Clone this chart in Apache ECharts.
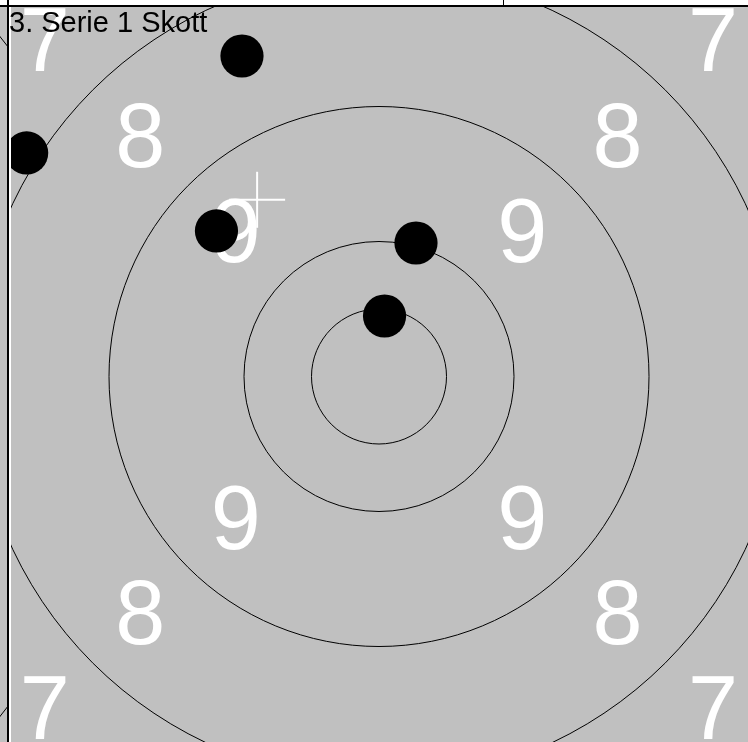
<!DOCTYPE html>
<html>
<head>
<meta charset="utf-8">
<style>
  html, body { margin: 0; padding: 0; background: #fff; }
  #chart { width: 748px; height: 742px; }
</style>
<script src="https://cdn.jsdelivr.net/npm/echarts@6/dist/echarts.min.js"></script>
</head>
<body>
<div id="chart"></div>
<script>
const title = '3. Serie 1 Skott'

// target rings, radius in target units (one unit = 13.5px on screen)
const ringRadii = [5, 10, 20, 30, 40]
// ring numbers and the distance from the centre they sit at (on the diagonals)
const ringLabels = ['9', '8', '7']
const ringLabelRadii = [15, 25, 35]

// shots, position from the centre in target units
const shotX = [0.41, 2.74, -12.04, -10.15, -26.1]
const shotY = [4.48, 9.89, 10.78, 23.74, 16.56]
const shotRadius = 1.6

// previous target, only its outer ring shows in the strip at the left edge
const prevCentreX = -59.15

const PX = 13.5, CX = 379, CY = 376.5
const W = 748, H = 742
const mainLeft = 11, gridTop = 7, stripW = 7

const meanX = shotX.reduce((a, b) => a + b, 0) / shotX.length
const meanY = shotY.reduce((a, b) => a + b, 0) / shotY.length

const labelData = []
ringLabels.forEach((t, i) => {
  const d = ringLabelRadii[i] / Math.SQRT2
  ;[[-1, 1], [1, 1], [-1, -1], [1, -1]].forEach(([sx, sy]) => labelData.push([sx * d, sy * d, t]))
})

function clipOf(params) {
  const cs = params.coordSys
  return { type: 'rect', shape: { x: cs.x, y: cs.y, width: cs.width, height: cs.height } }
}

function ringItem(params, api) {
  const c = api.coord([api.value(0), api.value(1)])
  const r = api.size([api.value(2), 0])[0]
  return {
    type: 'group',
    clipPath: clipOf(params),
    children: [{
      type: 'circle',
      shape: { cx: c[0], cy: c[1], r },
      style: { fill: 'none', stroke: '#000', lineWidth: 1 }
    }]
  }
}

function labelItem(params, api) {
  const c = api.coord([api.value(0), api.value(1)])
  return {
    type: 'group',
    clipPath: clipOf(params),
    children: [{
      type: 'text',
      x: c[0],
      y: c[1] + 4,
      style: {
        text: labelData[params.dataIndex][2],
        fill: '#fff',
        font: '90px "Liberation Sans", Arial, sans-serif',
        align: 'center',
        verticalAlign: 'middle'
      }
    }]
  }
}

function shotItem(params, api) {
  const c = api.coord([api.value(0), api.value(1)])
  const r = api.size([shotRadius, 0])[0]
  return {
    type: 'group',
    clipPath: clipOf(params),
    children: [{ type: 'circle', shape: { cx: c[0], cy: c[1], r }, style: { fill: '#000' } }]
  }
}

function crossItem(params, api) {
  const c = api.coord([api.value(0), api.value(1)])
  const arm = 28
  const st = { stroke: '#fff', lineWidth: 2 }
  return {
    type: 'group',
    clipPath: clipOf(params),
    children: [
      { type: 'line', shape: { x1: c[0] - arm, y1: c[1], x2: c[0] + arm, y2: c[1] }, style: st },
      { type: 'line', shape: { x1: c[0], y1: c[1] - arm, x2: c[0], y2: c[1] + arm }, style: st }
    ]
  }
}

const yMin = (CY - H) / PX, yMax = (CY - gridTop) / PX

const chart = echarts.init(document.getElementById('chart'))
chart.setOption({
  animation: false,
  backgroundColor: '#fff',
  grid: [
    { left: mainLeft, top: gridTop, width: W - mainLeft, height: H - gridTop, show: true, backgroundColor: '#c0c0c0', borderWidth: 0 },
    { left: 0, top: gridTop, width: stripW, height: H - gridTop, show: true, backgroundColor: '#c0c0c0', borderWidth: 0 }
  ],
  xAxis: [
    { type: 'value', gridIndex: 0, min: (mainLeft - CX) / PX, max: (W - CX) / PX, show: false },
    { type: 'value', gridIndex: 1, min: (0 - CX) / PX, max: (stripW - CX) / PX, show: false }
  ],
  yAxis: [
    { type: 'value', gridIndex: 0, min: yMin, max: yMax, show: false },
    { type: 'value', gridIndex: 1, min: yMin, max: yMax, show: false }
  ],
  series: [
    {
      type: 'custom', name: 'rings', xAxisIndex: 0, yAxisIndex: 0, z: 2,
      renderItem: ringItem, data: ringRadii.map(r => [0, 0, r])
    },
    {
      type: 'custom', name: 'prev rings', xAxisIndex: 1, yAxisIndex: 1, z: 2,
      renderItem: ringItem, data: ringRadii.map(r => [prevCentreX, 0, r])
    },
    {
      type: 'custom', name: 'numbers', xAxisIndex: 0, yAxisIndex: 0, z: 3,
      renderItem: labelItem, data: labelData
    },
    {
      type: 'custom', name: 'shots', xAxisIndex: 0, yAxisIndex: 0, z: 4,
      renderItem: shotItem, data: shotX.map((x, i) => [x, shotY[i]])
    },
    {
      type: 'custom', name: 'mean', xAxisIndex: 0, yAxisIndex: 0, z: 5,
      renderItem: crossItem, data: [[meanX, meanY]]
    }
  ],
  graphic: [
    { type: 'rect', z: 100, shape: { x: 0, y: 5, width: W, height: 2 }, style: { fill: '#000' } },
    { type: 'rect', z: 100, shape: { x: 7, y: 0, width: 2, height: H }, style: { fill: '#000' } },
    { type: 'rect', z: 100, shape: { x: 9, y: 7, width: 2, height: H - 7 }, style: { fill: '#fff' } },
    { type: 'rect', z: 100, shape: { x: 503, y: 0, width: 1, height: 5 }, style: { fill: '#000' } },
    {
      type: 'text', z: 101, x: 9, y: 24,
      style: { text: title, fill: '#000', font: '29px "Liberation Sans", Arial, sans-serif', verticalAlign: 'middle' }
    }
  ]
})
</script>
</body>
</html>
